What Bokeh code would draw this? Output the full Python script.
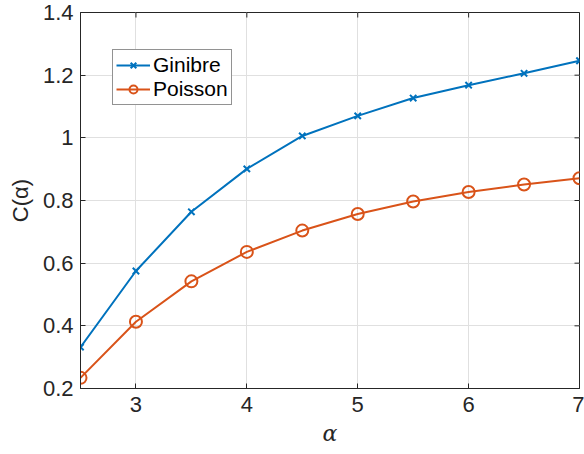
from bokeh.plotting import figure
from bokeh.embed import file_html
from bokeh.resources import INLINE
from bokeh.models import Range1d, FixedTicker, Legend, LegendItem

alpha = [2.5, 3.0, 3.5, 4.0, 4.5, 5.0, 5.5, 6.0, 6.5, 7.0]
ginibre = [0.332, 0.575, 0.764, 0.901, 1.006, 1.070, 1.127, 1.168, 1.206, 1.246]
poisson = [0.234, 0.413, 0.542, 0.636, 0.704, 0.757, 0.797, 0.827, 0.851, 0.871]
x_ticks = [3, 4, 5, 6, 7]
y_ticks = [0.2, 0.4, 0.6, 0.8, 1.0, 1.2, 1.4]

BLUE = "#0072BD"
ORANGE = "#D95319"
AX = "#262626"
FONT = "Liberation Sans"

X0, X1, Y0, Y1 = 2.5, 7.0, 0.2, 1.4
W, H = 584, 454
BL, BR, BT, BB = 80, 5, 12, 66

p = figure(width=W, height=H, output_backend="svg", toolbar_location=None,
           x_range=Range1d(X0, X1), y_range=Range1d(Y0, Y1),
           min_border_left=BL, min_border_right=BR, min_border_top=BT, min_border_bottom=BB)
p.outline_line_color = AX
p.outline_line_width = 1
p.background_fill_color = "white"
p.border_fill_color = "white"

for ax in (p.xaxis[0], p.yaxis[0]):
    ax.axis_line_color = AX
    ax.major_tick_line_color = AX
    ax.major_tick_in = 5
    ax.major_tick_out = 0
    ax.minor_tick_line_color = None
    ax.major_label_text_font = FONT
    ax.major_label_text_font_size = "22px"
    ax.major_label_text_color = AX
    ax.axis_label_text_color = AX
    ax.axis_label_text_font_style = "normal"

p.xaxis.ticker = FixedTicker(ticks=x_ticks)
p.yaxis.ticker = FixedTicker(ticks=y_ticks)
p.yaxis.major_label_overrides = {0.2: "0.2", 0.4: "0.4", 0.6: "0.6", 0.8: "0.8", 1.0: "1", 1.2: "1.2", 1.4: "1.4"}
p.xaxis.axis_label = "α"
p.xaxis.axis_label_text_font = "DejaVu Serif"
p.xaxis.axis_label_text_font_style = "italic"
p.xaxis.axis_label_text_font_size = "22px"
p.xaxis.axis_label_standoff = 6
p.xaxis.major_label_standoff = 8
p.yaxis.axis_label = "C(α)"
p.yaxis.axis_label_text_font = FONT
p.yaxis.axis_label_text_font_size = "22px"
p.yaxis.axis_label_standoff = 7
p.yaxis.major_label_standoff = 7

p.xgrid.grid_line_color = "#E0E0E0"
p.ygrid.grid_line_color = "#E0E0E0"

# box ticks on top and right edges (5 px inward), as in a boxed MATLAB axes
tick_dy = 5 * (Y1 - Y0) / (H - BT - BB)
tick_dx = 5 * (X1 - X0) / (W - BL - BR)
p.segment(x0=x_ticks, y0=[Y1] * len(x_ticks), x1=x_ticks, y1=[Y1 - tick_dy] * len(x_ticks),
          line_color=AX, line_width=1)
p.segment(x0=[X1] * len(y_ticks), y0=y_ticks, x1=[X1 - tick_dx] * len(y_ticks), y1=y_ticks,
          line_color=AX, line_width=1)

gl = p.line(alpha, ginibre, line_color=BLUE, line_width=2)
gm = p.scatter(alpha, ginibre, marker="x", size=9, line_color=BLUE, line_width=2)
pl = p.line(alpha, poisson, line_color=ORANGE, line_width=2)
pm = p.scatter(alpha, poisson, marker="circle", size=12, line_color=ORANGE, fill_color=None, line_width=2)

legend = Legend(items=[LegendItem(label="Ginibre", renderers=[gl, gm]),
                       LegendItem(label="Poisson", renderers=[pl, pm])],
                location=(32, 283))
legend.label_text_font = FONT
legend.label_text_font_size = "21px"
legend.label_text_color = "black"
legend.border_line_color = AX
legend.border_line_width = 1
legend.background_fill_alpha = 1
legend.glyph_width = 34
legend.glyph_height = 20
legend.label_standoff = 3
legend.padding = 3
legend.spacing = 0
legend.margin = 0
legend.label_height = 20
p.add_layout(legend)

open("out.html", "w").write(file_html(p, INLINE))
